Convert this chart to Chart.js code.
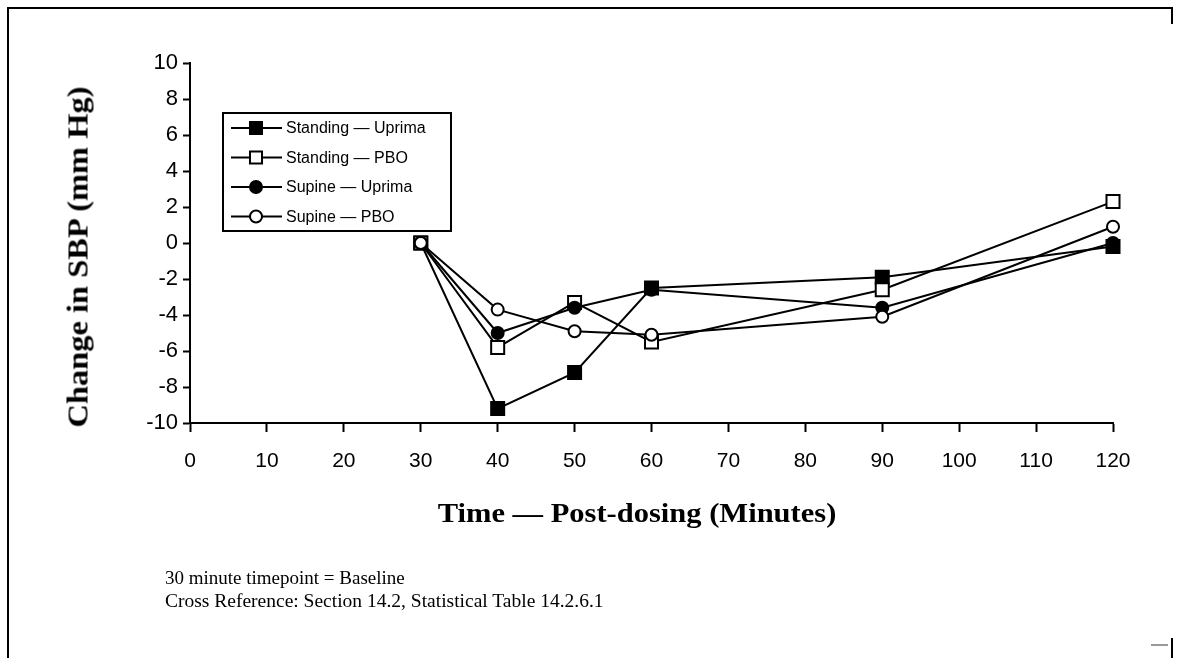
<!DOCTYPE html>
<html>
<head>
<meta charset="utf-8">
<script src="https://cdn.jsdelivr.net/npm/chart.js@4/dist/chart.umd.min.js"></script>
<style>
html,body{margin:0;padding:0;background:#fff;}
#wrap{position:relative;width:1179px;height:658px;overflow:hidden;background:#fff;}
#c{position:absolute;left:0;top:0;}
.t{position:absolute;white-space:nowrap;color:#000;font-family:"Liberation Serif","Times New Roman",serif;line-height:1;}
.ln{position:absolute;background:#000;}
</style>
</head>
<body>
<div id="wrap">
  <canvas id="c" width="1179" height="658"></canvas>
  <div class="ln" style="left:7px;top:7px;width:1166px;height:2px;"></div>
  <div class="ln" style="left:7px;top:7px;width:2px;height:651px;"></div>
  <div class="ln" style="left:1171px;top:7px;width:2px;height:17px;"></div>
  <div class="ln" style="left:1171px;top:638px;width:2px;height:20px;"></div>
  <div class="ln" style="left:1151px;top:644px;width:17px;height:2px;background:#999;"></div>
  <div id="ytitle" class="t" style="left:78px;top:257px;font-size:29px;font-weight:bold;transform:translate(-50%,-50%) rotate(-90deg) scaleX(1.12);">Change in SBP (mm Hg)</div>
  <div id="xtitle" class="t" style="left:637px;top:500px;font-size:27px;font-weight:bold;transform-origin:50% 0;transform:translateX(-50%) scaleX(1.13);">Time — Post-dosing (Minutes)</div>
  <div class="t" style="left:165px;top:568px;font-size:19px;">30 minute timepoint = Baseline</div>
  <div class="t" style="left:165px;top:591px;font-size:19.5px;">Cross Reference: Section 14.2, Statistical Table 14.2.6.1</div>
</div>
<script>
// ---- data ----
const timePoints = [30, 40, 50, 60, 90, 120];
const standingUprima = [0, -9.2, -7.2, -2.5, -1.9, -0.2];
const standingPBO = [0, -5.8, -3.3, -5.5, -2.6, 2.3];
const supineUprima = [0, -5.0, -3.6, -2.6, -3.6, 0.0];
const supinePBO = [0, -3.7, -4.9, -5.1, -4.1, 0.9];
const seriesLabels = ['Standing — Uprima', 'Standing — PBO', 'Supine — Uprima', 'Supine — PBO'];
const xTickValues = [0, 10, 20, 30, 40, 50, 60, 70, 80, 90, 100, 110, 120];
const yTickValues = [-10, -8, -6, -4, -2, 0, 2, 4, 6, 8, 10];

const toPts = arr => timePoints.map((t, i) => ({x: t, y: arr[i]}));

function ds(label, values, style, fill, radius, order) {
  return {
    label: label,
    data: toPts(values),
    borderColor: '#000',
    borderWidth: 2,
    backgroundColor: fill,
    pointStyle: style,
    pointRadius: radius,
    pointHoverRadius: radius,
    pointBorderWidth: 2,
    pointBorderColor: '#000',
    pointBackgroundColor: fill,
    tension: 0,
    fill: false,
    order: order,
    clip: false
  };
}

const datasets = [
  ds(seriesLabels[0], standingUprima, 'rect', '#000', 9.2, 4),
  ds(seriesLabels[1], standingPBO, 'rect', '#fff', 9.2, 3),
  ds(seriesLabels[2], supineUprima, 'circle', '#000', 6, 2),
  ds(seriesLabels[3], supinePBO, 'circle', '#fff', 6, 1)
];

const legendBox = {
  id: 'legendBox',
  afterDraw(chart) {
    const ctx = chart.ctx;
    const L = 223, T = 113, W = 228, H = 118;
    ctx.save();
    ctx.fillStyle = '#fff';
    ctx.fillRect(L, T, W, H);
    ctx.strokeStyle = '#000';
    ctx.lineWidth = 2;
    ctx.strokeRect(L, T, W, H);
    const rows = [128, 157.5, 187, 216.5];
    chart.data.datasets.forEach((d, i) => {
      const y = rows[i];
      ctx.strokeStyle = '#000';
      ctx.lineWidth = 2;
      ctx.beginPath();
      ctx.moveTo(231, y);
      ctx.lineTo(282, y);
      ctx.stroke();
      ctx.fillStyle = d.pointBackgroundColor;
      ctx.strokeStyle = '#000';
      ctx.lineWidth = 2;
      Chart.helpers.drawPoint(ctx, {pointStyle: d.pointStyle, radius: d.pointStyle === 'rect' ? 8.5 : 6, rotation: 0, borderWidth: 2}, 256, y);
      ctx.fillStyle = '#000';
      ctx.font = '16px "Liberation Sans", Arial, sans-serif';
      ctx.textBaseline = 'middle';
      ctx.textAlign = 'left';
      ctx.fillText(d.label, 286, y + 1);
    });
    ctx.restore();
  }
};

const tickFontX = {family: '"Liberation Sans", Arial, sans-serif', size: 21};
const tickFontY = {family: '"Liberation Sans", Arial, sans-serif', size: 22};

new Chart(document.getElementById('c'), {
  type: 'line',
  data: {datasets: datasets},
  options: {
    responsive: false,
    animation: false,
    devicePixelRatio: 1,
    layout: {padding: {left: 0, top: 63, right: 66, bottom: 175}},
    plugins: {legend: {display: false}, tooltip: {enabled: false}, title: {display: false}},
    scales: {
      x: {
        type: 'linear',
        min: 0, max: 120,
        afterBuildTicks(s) { s.ticks = xTickValues.map(v => ({value: v})); },
        afterFit(s) { s.height = 60; },
        ticks: {color: '#000', font: tickFontX, padding: 17, maxRotation: 0, autoSkip: false},
        grid: {display: true, drawOnChartArea: false, drawTicks: true, tickLength: 9, tickColor: '#000', tickWidth: 2},
        border: {display: true, color: '#000', width: 2}
      },
      y: {
        type: 'linear',
        min: -10, max: 10,
        afterBuildTicks(s) { s.ticks = yTickValues.map(v => ({value: v})); },
        afterFit(s) { s.width = 190; },
        ticks: {color: '#000', font: tickFontY, padding: 5, autoSkip: false},
        grid: {display: true, drawOnChartArea: false, drawTicks: true, tickLength: 7, tickColor: '#000', tickWidth: 2},
        border: {display: true, color: '#000', width: 2}
      }
    }
  },
  plugins: [legendBox]
});
</script>
</body>
</html>
